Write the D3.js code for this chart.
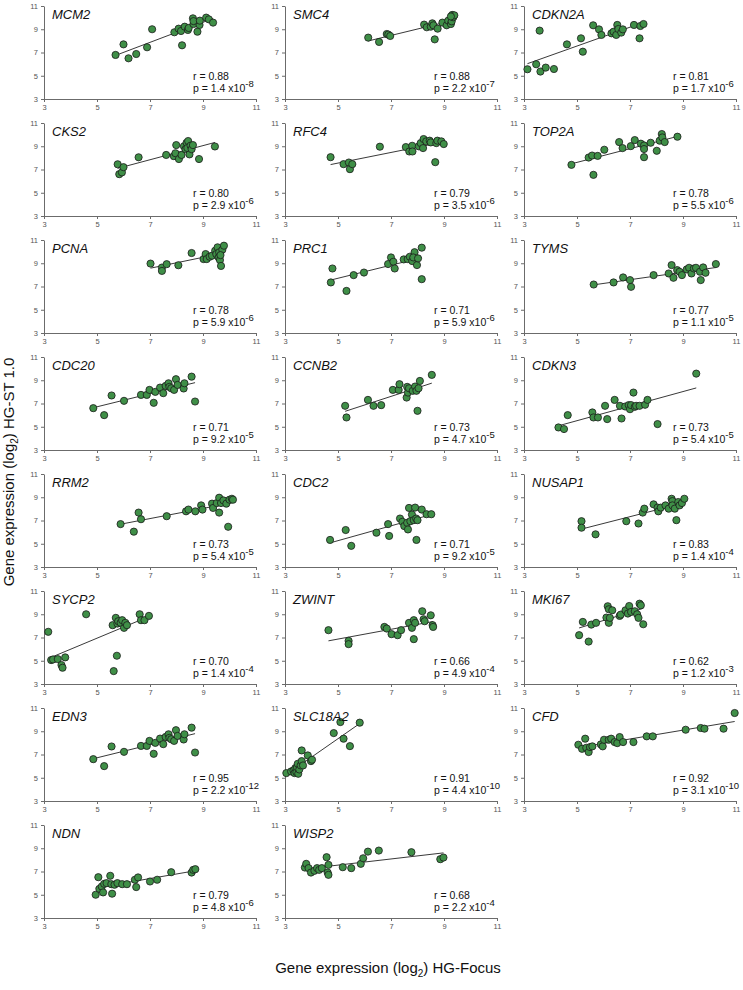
<!DOCTYPE html>
<html><head><meta charset="utf-8">
<script src="https://cdn.jsdelivr.net/npm/d3@7"></script>
<style>
html,body{margin:0;padding:0;background:#fff;}
svg{display:block;font-family:"Liberation Sans",Arial,sans-serif;}
</style></head>
<body>
<svg id="chart" width="743" height="990"></svg>
<script>
// ---- data ----
const genes = ["MCM2","SMC4","CDKN2A","CKS2","RFC4","TOP2A","PCNA","PRC1","TYMS","CDC20","CCNB2","CDKN3","RRM2","CDC2","NUSAP1","SYCP2","ZWINT","MKI67","EDN3","SLC18A2","CFD","NDN","WISP2"];
const rValues = ["0.88","0.88","0.81","0.80","0.79","0.78","0.78","0.71","0.77","0.71","0.73","0.73","0.73","0.71","0.83","0.70","0.66","0.62","0.95","0.91","0.92","0.79","0.68"];
const pMantissa = ["1.4","2.2","1.7","2.9","3.5","5.5","5.9","5.9","1.1","9.2","4.7","5.4","5.4","9.2","1.4","1.4","4.9","1.2","2.2","4.4","3.1","4.8","2.2"];
const pExponent = ["-8","-7","-6","-6","-6","-6","-6","-6","-5","-5","-5","-5","-5","-5","-4","-4","-4","-3","-12","-10","-10","-6","-4"];
const tickValues = [3,5,7,9,11];

const MCM2 = [[5.70,6.79],[6.00,7.70],[6.19,6.50],[6.48,6.87],[6.89,7.45],[7.08,9.00],[7.92,8.74],[8.08,9.05],[8.21,7.62],[8.17,8.85],[8.31,9.22],[8.43,8.94],[8.46,9.11],[8.62,9.94],[8.64,9.45],[8.64,9.70],[8.79,8.79],[8.87,9.37],[8.88,9.74],[9.12,10.0],[9.22,9.85],[9.38,9.57]];
const SMC4 = [[6.14,8.28],[6.55,7.91],[6.84,8.59],[6.90,8.54],[6.97,8.42],[8.25,9.40],[8.35,9.17],[8.50,9.22],[8.56,9.51],[8.60,9.34],[8.65,8.13],[8.76,9.05],[8.94,9.57],[9.10,9.34],[9.16,9.74],[9.26,9.45],[9.29,9.68],[9.31,10.23],[9.35,10.03],[9.39,10.20],[9.26,10.10]];
const CDKN2A = [[3.13,5.56],[3.46,5.99],[3.59,8.88],[3.62,5.36],[3.82,5.70],[4.13,5.58],[4.62,7.70],[5.15,8.22],[5.22,7.07],[5.61,9.34],[5.83,8.99],[5.92,8.51],[6.30,8.65],[6.38,8.79],[6.48,8.51],[6.52,9.37],[6.56,9.02],[6.67,8.71],[6.73,8.99],[7.15,9.37],[7.36,8.22],[7.39,9.28],[7.51,9.45]];
const CKS2 = [[5.78,7.45],[5.84,6.60],[5.94,6.75],[6.00,7.20],[6.57,8.05],[7.61,8.25],[7.90,8.15],[7.99,9.10],[7.96,8.40],[8.09,7.90],[8.19,8.25],[8.28,9.00],[8.34,8.75],[8.38,9.30],[8.41,8.85],[8.44,9.45],[8.49,8.30],[8.53,9.05],[8.57,8.75],[8.62,9.10],[8.85,7.90],[9.45,8.98]];
const RFC4 = [[4.72,8.06],[5.21,7.46],[5.41,7.60],[5.45,7.03],[5.54,7.46],[6.58,8.96],[7.56,8.93],[7.69,8.55],[7.80,9.04],[7.81,8.55],[8.05,8.99],[8.12,9.27],[8.21,8.84],[8.23,9.62],[8.33,9.42],[8.46,9.48],[8.50,9.33],[8.71,9.27],[8.75,9.48],[8.67,7.63],[8.90,9.42],[8.99,9.19]];
const TOP2A = [[4.79,7.40],[5.44,8.03],[5.57,8.20],[5.62,6.54],[5.78,8.17],[6.03,8.70],[6.59,9.36],[6.72,8.84],[7.03,9.01],[7.18,9.53],[7.41,9.22],[7.53,9.07],[7.53,8.76],[7.53,8.06],[7.78,9.30],[8.01,8.61],[8.12,9.48],[8.20,10.05],[8.22,9.76],[8.31,9.36],[8.79,9.82]];
const PCNA = [[7.02,8.97],[7.45,8.63],[7.45,8.34],[7.63,8.92],[8.07,8.83],[8.57,9.88],[9.02,9.36],[9.10,9.79],[9.14,9.36],[9.25,9.56],[9.34,9.65],[9.46,10.08],[9.50,9.79],[9.55,10.37],[9.59,9.50],[9.61,9.94],[9.64,9.27],[9.68,8.77],[9.73,10.16],[9.79,10.51],[9.66,9.70]];
const PRC1 = [[4.73,7.35],[4.79,8.55],[5.32,6.62],[5.59,7.98],[5.98,8.20],[6.89,8.93],[7.00,9.50],[7.09,9.13],[7.14,8.55],[7.48,9.33],[7.63,9.36],[7.71,9.56],[7.80,9.19],[7.89,9.95],[7.84,9.50],[7.98,8.84],[8.02,9.42],[8.16,10.34],[8.16,7.63]];
const TYMS = [[5.63,7.17],[6.38,7.35],[6.74,7.78],[7.00,7.55],[7.04,6.97],[7.89,7.98],[8.46,8.12],[8.57,8.84],[8.64,7.75],[8.78,8.41],[8.87,8.27],[8.96,7.98],[9.14,8.47],[9.23,8.61],[9.32,8.12],[9.41,8.55],[9.49,8.61],[9.64,8.27],[9.67,7.55],[9.76,8.64],[9.85,8.18],[10.24,8.93]];
const CDC20 = [[4.86,6.60],[5.27,6.00],[5.55,7.69],[6.02,7.23],[6.66,7.74],[6.88,7.74],[6.98,8.17],[7.14,7.06],[7.20,8.00],[7.38,8.37],[7.50,7.89],[7.59,8.51],[7.70,8.74],[7.73,8.43],[7.80,8.31],[7.91,8.17],[7.98,9.09],[8.04,8.60],[8.27,8.29],[8.30,8.74],[8.57,9.31],[8.70,7.17]];
const CCNB2 = [[5.27,6.80],[5.32,5.80],[6.13,7.31],[6.34,6.80],[6.63,6.86],[7.07,8.17],[7.29,8.17],[7.32,8.66],[7.59,7.51],[7.61,8.43],[7.64,7.94],[7.68,8.31],[7.82,8.09],[7.91,8.46],[7.96,8.09],[8.00,6.37],[8.04,8.31],[8.09,8.94],[8.54,9.46]];
const CDKN3 = [[4.30,4.94],[4.51,4.80],[4.65,6.00],[5.58,6.23],[5.62,5.80],[5.79,5.80],[6.06,6.80],[6.14,5.66],[6.42,7.31],[6.62,6.80],[6.68,5.71],[6.82,6.74],[6.95,6.86],[7.00,6.51],[7.04,6.86],[7.13,7.94],[7.18,6.71],[7.23,6.80],[7.36,6.80],[7.57,6.89],[7.66,7.31],[8.04,5.23],[9.50,9.57]];
const RRM2 = [[5.89,6.69],[6.39,6.04],[6.57,7.68],[6.66,7.11],[7.63,7.37],[8.36,7.79],[8.45,7.94],[8.71,7.79],[8.93,8.30],[8.98,7.94],[9.34,8.45],[9.38,8.08],[9.52,8.50],[9.61,8.96],[9.61,7.68],[9.68,8.50],[9.77,8.73],[9.88,8.45],[9.95,6.46],[10.00,8.79],[10.09,8.87],[10.13,8.79]];
const CDC2 = [[4.70,5.33],[5.29,6.18],[5.50,4.82],[6.45,5.95],[6.89,6.69],[6.93,5.67],[7.34,7.17],[7.43,6.89],[7.50,6.52],[7.61,6.80],[7.64,6.23],[7.68,8.08],[7.73,6.94],[7.79,7.51],[7.86,7.03],[7.91,8.11],[7.95,7.17],[7.96,5.33],[8.00,7.03],[8.16,7.94],[8.34,7.54],[8.52,7.54]];
const NUSAP1 = [[5.17,6.94],[5.17,6.38],[5.70,5.81],[6.86,6.94],[7.32,6.74],[7.48,7.68],[7.54,8.02],[7.89,8.39],[8.04,8.11],[8.07,7.79],[8.16,8.11],[8.34,8.30],[8.46,8.02],[8.57,8.87],[8.60,8.67],[8.60,8.30],[8.69,8.02],[8.75,7.03],[8.82,8.59],[8.87,8.30],[8.96,8.50],[9.05,8.87]];
const SYCP2 = [[3.16,7.49],[3.27,5.06],[3.34,5.11],[3.52,5.14],[3.66,4.63],[3.70,4.40],[3.80,5.29],[4.59,9.00],[5.59,8.06],[5.63,4.11],[5.71,8.69],[5.75,5.43],[5.77,8.20],[5.80,8.40],[5.89,8.26],[5.95,8.49],[6.02,7.83],[6.07,8.26],[6.13,8.06],[6.61,9.00],[6.66,8.49],[6.79,8.49],[6.96,8.86]];
const ZWINT = [[4.64,7.63],[5.40,6.71],[5.40,6.43],[6.75,7.91],[6.84,7.77],[7.02,7.29],[7.25,7.20],[7.38,7.63],[7.68,8.26],[7.79,7.83],[7.86,8.49],[7.86,6.86],[7.91,8.26],[8.18,9.26],[8.23,8.57],[8.27,8.40],[8.50,8.91],[8.57,8.06],[8.59,7.91]];
const MKI67 = [[5.08,7.20],[5.22,8.34],[5.44,6.65],[5.54,8.11],[5.72,8.26],[6.11,8.71],[6.16,9.69],[6.20,9.43],[6.20,8.26],[6.24,8.69],[6.33,9.34],[6.61,8.86],[6.65,8.97],[6.83,9.34],[6.92,9.06],[6.97,9.71],[7.04,9.20],[7.18,9.26],[7.27,9.00],[7.32,8.69],[7.36,9.91],[7.41,9.77],[7.50,8.14]];
const EDN3 = [[4.86,6.60],[5.27,6.00],[5.55,7.69],[6.02,7.23],[6.66,7.74],[6.88,7.74],[6.98,8.17],[7.14,7.06],[7.20,8.00],[7.38,8.37],[7.50,7.89],[7.59,8.51],[7.70,8.74],[7.73,8.43],[7.80,8.31],[7.91,8.17],[7.98,9.09],[8.04,8.60],[8.27,8.29],[8.30,8.74],[8.57,9.31],[8.70,7.17]];
const SLC18A2 = [[3.05,5.40],[3.23,5.54],[3.32,5.63],[3.36,5.40],[3.39,5.83],[3.43,5.48],[3.45,5.91],[3.48,6.20],[3.50,5.34],[3.54,5.71],[3.59,6.06],[3.63,7.35],[3.63,6.43],[3.68,6.06],[3.86,6.92],[3.98,6.43],[4.02,6.55],[4.84,8.84],[5.09,9.79],[5.21,8.36],[5.45,7.72],[5.82,9.74]];
const CFD = [[5.05,7.84],[5.19,7.49],[5.31,8.36],[5.35,7.58],[5.44,7.21],[5.49,7.64],[5.58,7.70],[5.90,7.87],[5.97,7.70],[6.02,8.27],[6.20,8.27],[6.29,8.36],[6.42,8.07],[6.52,7.98],[6.61,8.50],[6.74,8.07],[7.13,8.07],[7.63,8.56],[7.86,8.56],[9.10,9.13],[9.67,9.28],[9.81,9.22],[10.53,9.22],[10.95,10.57]];
const NDN = [[4.95,5.00],[5.05,6.51],[5.09,5.51],[5.18,5.71],[5.23,5.20],[5.27,5.94],[5.36,6.00],[5.50,6.63],[5.54,5.91],[5.57,5.09],[5.66,5.86],[5.77,6.00],[5.95,5.91],[6.13,5.91],[6.43,6.29],[6.48,5.66],[6.55,6.49],[7.00,6.14],[7.27,6.29],[7.80,6.94],[8.57,6.91],[8.63,7.14],[8.71,7.20]];
const WISP2 = [[3.75,7.34],[3.80,7.66],[3.89,7.29],[3.98,6.91],[4.11,7.06],[4.21,7.29],[4.29,7.14],[4.39,7.29],[4.57,8.23],[4.61,6.91],[4.64,6.71],[4.64,7.57],[5.18,7.37],[5.50,7.29],[5.86,7.66],[5.95,8.14],[6.13,8.71],[6.54,8.80],[7.77,8.66],[8.86,8.06],[8.98,8.20]];

const pointSets = [MCM2,SMC4,CDKN2A,CKS2,RFC4,TOP2A,PCNA,PRC1,TYMS,CDC20,CCNB2,CDKN3,RRM2,CDC2,NUSAP1,SYCP2,ZWINT,MKI67,EDN3,SLC18A2,CFD,NDN,WISP2];

// ---- layout ----
const colX = [44, 285, 524];
const panelW = 212, panelH = 93;
const rowTop0 = 6, rowStep = 117;

const svg = d3.select("#chart");
const axisColor = "#6b6b6b";
const fillColor = "#3f8f47";

function regression(pts){
  const mx = d3.mean(pts, d=>d[0]), my = d3.mean(pts, d=>d[1]);
  let sxy=0, sxx=0;
  pts.forEach(d=>{sxy+=(d[0]-mx)*(d[1]-my); sxx+=(d[0]-mx)*(d[0]-mx);});
  const b = sxy/sxx, a = my - b*mx;
  return {a,b};
}

genes.forEach((g,i)=>{
  const col = i%3, row = Math.floor(i/3);
  const x0 = colX[col], y0 = rowTop0 + rowStep*row;
  const gp = svg.append("g").attr("transform",`translate(${x0},${y0})`);
  const x = d3.scaleLinear().domain([3,11]).range([0,panelW]);
  const y = d3.scaleLinear().domain([3,11]).range([panelH,0]);

  const xa = gp.append("g").attr("transform",`translate(0,${panelH})`)
    .call(d3.axisBottom(x).tickValues(tickValues).tickSize(3).tickPadding(3).tickSizeOuter(0));
  const ya = gp.append("g")
    .call(d3.axisLeft(y).tickValues(tickValues).tickSize(3).tickPadding(3).tickSizeOuter(0));
  [xa,ya].forEach(a=>{
    a.select(".domain").attr("stroke",axisColor).attr("stroke-width",1);
    a.selectAll(".tick line").attr("stroke",axisColor);
    a.selectAll(".tick text").attr("fill","#555").style("font-size","7.5px")
      .style("font-family","'Liberation Sans',Arial,sans-serif");
  });

  const pts = pointSets[i];
  const reg = regression(pts);
  const [xmin,xmax] = d3.extent(pts, d=>d[0]);
  gp.append("line")
    .attr("x1",x(xmin)).attr("y1",y(reg.a+reg.b*xmin))
    .attr("x2",x(xmax)).attr("y2",y(reg.a+reg.b*xmax))
    .attr("stroke","#222").attr("stroke-width",0.9);

  gp.selectAll("circle").data(pts).enter().append("circle")
    .attr("cx",d=>x(d[0])).attr("cy",d=>y(d[1])).attr("r",3.6)
    .attr("fill",fillColor).attr("stroke","#1b1b1b").attr("stroke-width",0.8);

  gp.append("text").attr("x",8).attr("y",13)
    .style("font-size","13px").style("font-style","italic").attr("fill","#111").text(g);

  const tx = 149;
  gp.append("text").attr("x",tx).attr("y",y(4.6))
    .style("font-size","10.5px").attr("fill","#111").text("r = "+rValues[i]);
  const pt = gp.append("text").attr("x",tx).attr("y",y(3.58))
    .style("font-size","10.5px").attr("fill","#111");
  pt.append("tspan").text("p = "+pMantissa[i]+" x10");
  pt.append("tspan").attr("dy",-5).style("font-size","9.5px").text(pExponent[i]);
});

// axis titles
const yt = svg.append("text").attr("transform","translate(14,472) rotate(-90)")
  .attr("text-anchor","middle").style("font-size","15px").attr("fill","#111");
yt.append("tspan").text("Gene expression (log");
yt.append("tspan").attr("dy",4).style("font-size","10px").text("2");
yt.append("tspan").attr("dy",-4).text(") HG-ST 1.0");

const xt = svg.append("text").attr("x",388).attr("y",973)
  .attr("text-anchor","middle").style("font-size","15px").attr("fill","#111");
xt.append("tspan").text("Gene expression (log");
xt.append("tspan").attr("dy",4).style("font-size","10px").text("2");
xt.append("tspan").attr("dy",-4).text(") HG-Focus");
</script>
</body></html>
